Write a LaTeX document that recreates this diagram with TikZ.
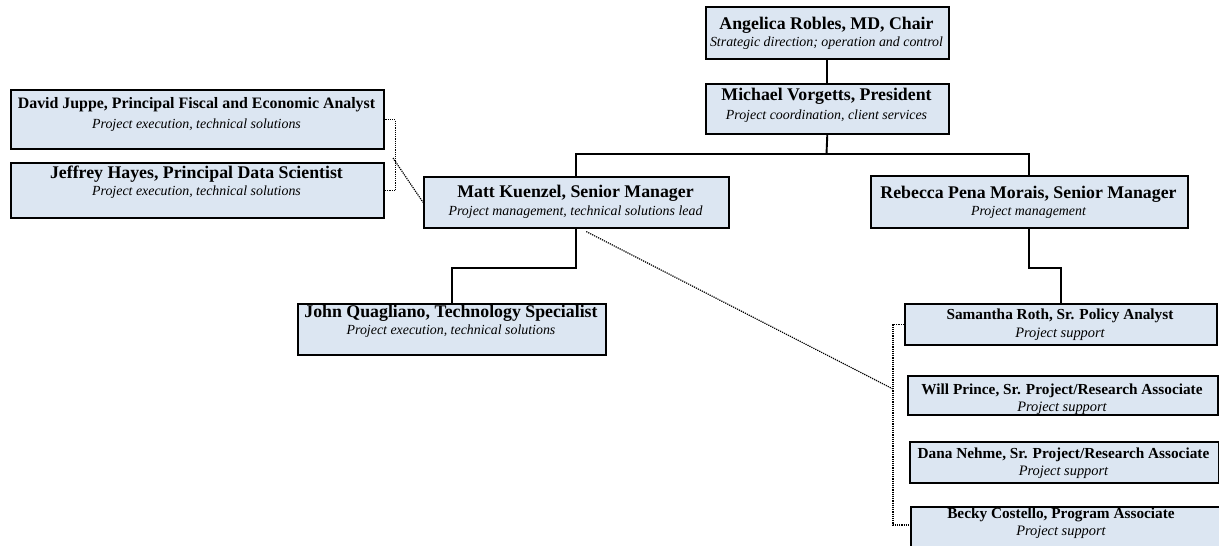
\documentclass[tikz,border=0pt]{standalone}
\usepackage{fontspec}
\setmainfont{Liberation Serif}
\usetikzlibrary{calc}
\definecolor{boxfill}{RGB}{220,230,242}
\tikzset{
  box/.style={draw=black, fill=boxfill, line width=1.6pt, inner sep=0pt, anchor=north west},
  thickbox/.style={box, line width=2.4pt},
  conn/.style={draw=black, line width=1.9pt},
  dotline/.style={draw=black, line width=1.2pt, dash pattern=on 1.2pt off 1pt},
  bigname/.style={font=\bfseries\fontsize{17.8}{20}\selectfont, inner sep=0pt},
  midname/.style={font=\bfseries\fontsize{15.9}{18}\selectfont, inner sep=0pt},
  smallname/.style={font=\bfseries\fontsize{15.3}{18}\selectfont, inner sep=0pt},
  desc/.style={font=\itshape\fontsize{13.9}{16}\selectfont, inner sep=0pt},
  sdesc/.style={font=\itshape\fontsize{14.4}{16}\selectfont, inner sep=0pt},
}
\begin{document}
\begin{tikzpicture}[x=1pt,y=-1pt]
\useasboundingbox (0,0) rectangle (1219,546);
\clip (0,0) rectangle (1219,546);
% boxes
\node[box, minimum width=243pt, minimum height=52pt] (A) at (705,6) {};
\node[box, minimum width=243pt, minimum height=50pt] (M) at (705,83) {};
\node[box, minimum width=305pt, minimum height=51pt] (Matt) at (423,176) {};
\node[box, minimum width=317pt, minimum height=52pt] (Reb) at (870,175) {};
\node[box, minimum width=308pt, minimum height=51pt] (John) at (297,303) {};
\node[thickbox, minimum width=373pt, minimum height=59pt] (David) at (10,89) {};
\node[thickbox, minimum width=373pt, minimum height=55pt] (Jeff) at (10,162) {};
\node[box, minimum width=312pt, minimum height=41pt] (Sam) at (904,303) {};
\node[thickbox, minimum width=310pt, minimum height=39pt] (Will) at (907,375) {};
\node[box, minimum width=309pt, minimum height=41pt] (Dana) at (909,441) {};
\node[box, minimum width=320pt, minimum height=60pt] (Becky) at (910,506) {};
% texts
\node[bigname] (At) at (826.5,25) {Angelica Robles, MD, Chair};
\node[desc] (Ad) at (826.5,43) {Strategic direction; operation and control};
\node[bigname] (Mt) at (826.5,96) {Michael Vorgetts, President};
\node[desc] (Md) at (826.5,116) {Project coordination, client services};
\node[bigname] (Mattt) at (575.5,193) {Matt Kuenzel, Senior Manager};
\node[desc] (Mattd) at (575.5,212) {Project management, technical solutions lead};
\node[bigname] (Rebt) at (1028.5,194) {Rebecca Pena Morais, Senior Manager};
\node[desc] (Rebd) at (1028.5,212) {Project management};
\node[bigname] (Johnt) at (451,313) {John Quagliano, Technology Specialist};
\node[desc] (Johnd) at (451,331) {Project execution, technical solutions};
\node[midname] (Davidt) at (196.5,105) {David Juppe, Principal Fiscal and Economic Analyst};
\node[desc] (Davidd) at (196.5,125) {Project execution, technical solutions};
\node[bigname] (Jefft) at (196.5,174) {Jeffrey Hayes, Principal Data Scientist};
\node[desc] (Jeffd) at (196.5,192) {Project execution, technical solutions};
\node[smallname] (Samt) at (1060,316) {Samantha Roth, Sr. Policy Analyst};
\node[sdesc] (Samd) at (1060,334) {Project support};
\node[smallname] (Willt) at (1062,391) {Will Prince, Sr. Project/Research Associate};
\node[sdesc] (Willd) at (1062,408) {Project support};
\node[smallname] (Danat) at (1063.5,455) {Dana Nehme, Sr. Project/Research Associate};
\node[sdesc] (Danad) at (1063.5,472) {Project support};
\node[smallname] (Beckyt) at (1061,515) {Becky Costello, Program Associate};
\node[sdesc] (Beckyd) at (1061,532) {Project support};
% solid connectors
\coordinate (hub) at (826.5,154);
\draw[conn] (A.south) -- (M.north);
\draw[conn] (M.south) -- (hub);
\draw[conn] (Matt.north) |- (hub) -| (Reb.north);
\draw[conn] (Matt.south) -- ++(0,39) -| (John.north);
\draw[conn] (Reb.south) -- ++(0,39) -| (Sam.north);
% dotted connectors
\coordinate (ld) at (393,158);
\draw[dotline] (David.east) -- ++(10,0) |- (Jeff.east);
\draw[dotline] (ld) -- (Matt.west);
\coordinate (rd) at (893,389);
\coordinate (bk) at ($(Becky.north west)+(0,19)$);
\draw[dotline] (Sam.west) -- ++(-11,0) |- (bk);
\draw[dotline] ($(Matt.south)+(10,3)$) -- (rd);
\end{tikzpicture}
\end{document}
